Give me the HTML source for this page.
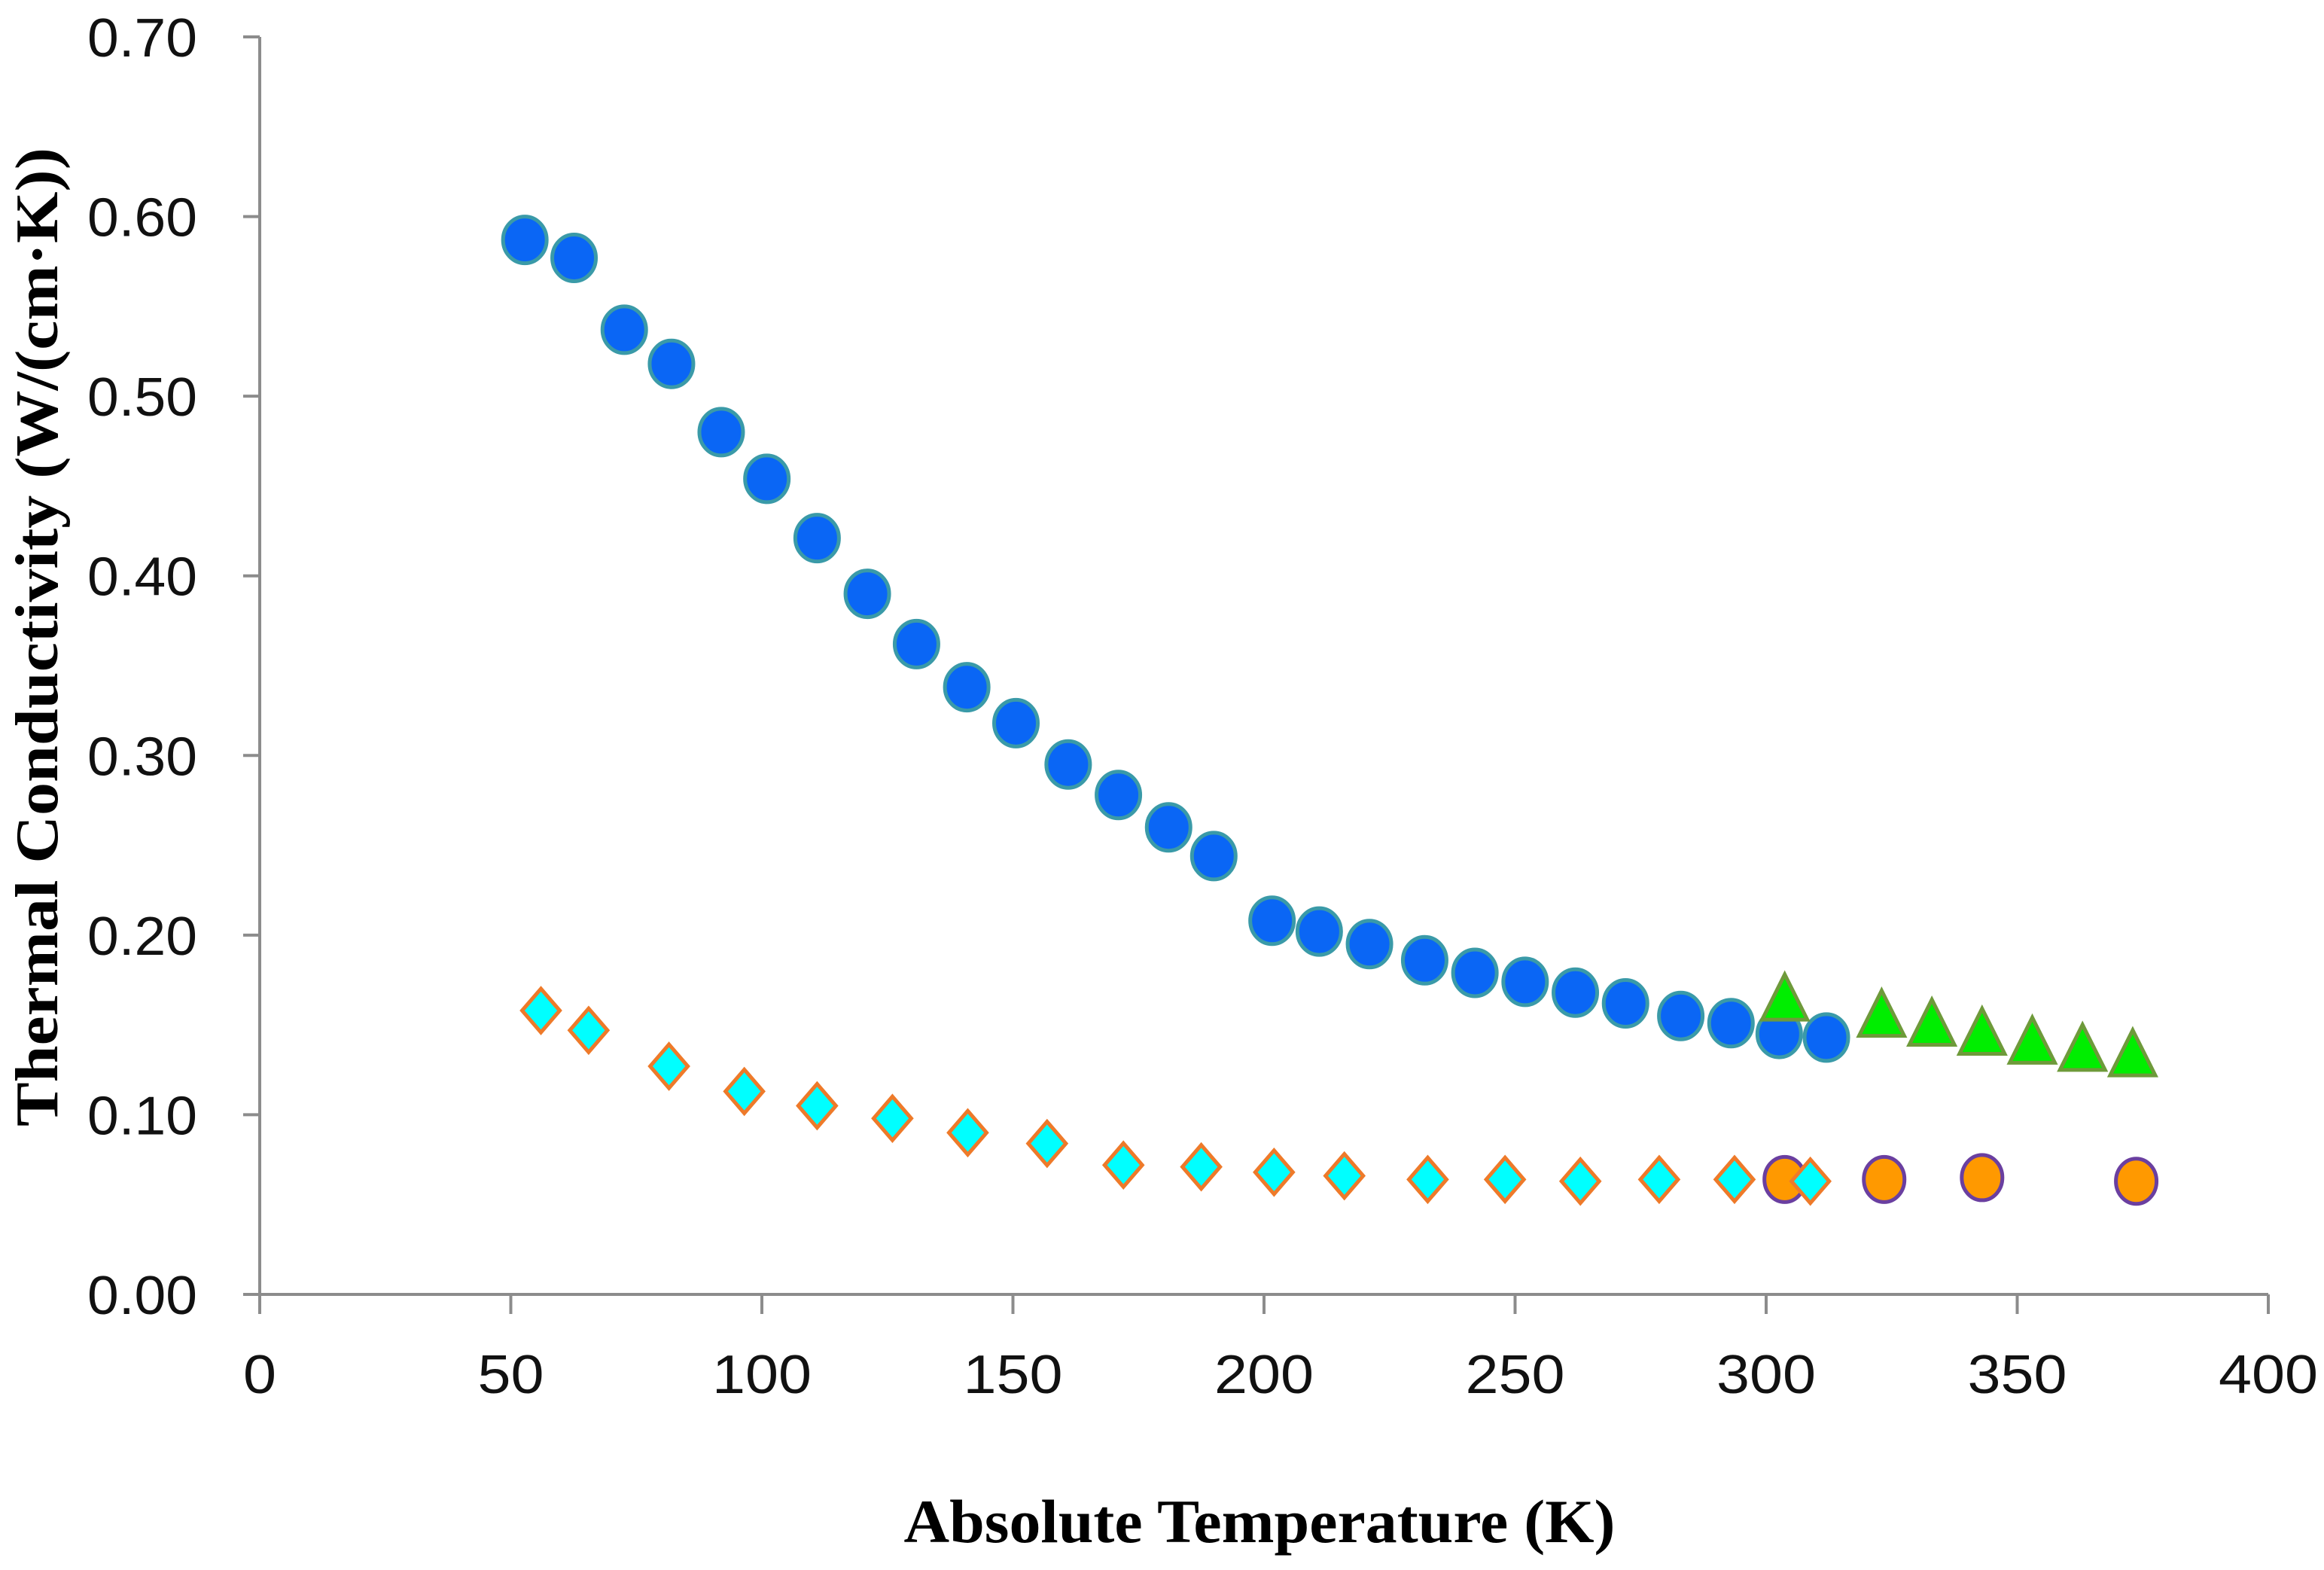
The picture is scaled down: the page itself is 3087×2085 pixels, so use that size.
<!DOCTYPE html>
<html><head><meta charset="utf-8"><style>
html,body{margin:0;padding:0;background:#fff;}
svg{display:block;}
</style></head><body>
<svg id="chart" width="3087" height="2085" viewBox="0 0 3087 2085" xmlns="http://www.w3.org/2000/svg">
<rect width="3087" height="2085" fill="#fff"/>
<g id="axes"></g>
<g id="marks"></g>
<text x="1673" y="2048" text-anchor="middle" font-family="'Liberation Serif', serif" font-weight="bold" font-size="82" textLength="945" lengthAdjust="spacingAndGlyphs">Absolute Temperature (K)</text>
<text transform="translate(76,846) rotate(-90)" x="0" y="0" text-anchor="middle" font-family="'Liberation Serif', serif" font-weight="bold" font-size="80" textLength="1300" lengthAdjust="spacingAndGlyphs">Thermal Conductivity (W/(cm·K))</text>
</svg>
<script>
const xTicks = [0,50,100,150,200,250,300,350,400];
const yTicks = [0,0.1,0.2,0.3,0.4,0.5,0.6,0.7];
const yTickLabels = ["0.00","0.10","0.20","0.30","0.40","0.50","0.60","0.70"];
const blueT = [52.8,62.6,72.6,82,91.9,101,111,121,130.8,140.8,150.6,161,171,181,190,201.6,211,221,232,242,252,262,272,283,293,302.6,312];
const blueK = [0.587,0.577,0.537,0.518,0.480,0.454,0.421,0.390,0.362,0.338,0.318,0.295,0.278,0.260,0.244,0.208,0.202,0.195,0.186,0.179,0.174,0.168,0.162,0.155,0.151,0.145,0.143];
const diaT = [56,65.5,81.5,96.5,111,126,141,156.8,172,187.5,202,216,232.6,248,263,278.7,293.7,308.8];
const diaK = [0.158,0.147,0.127,0.113,0.105,0.098,0.090,0.084,0.072,0.071,0.068,0.066,0.064,0.064,0.063,0.064,0.064,0.063];
const triT = [303.7,323,333,343,353,363,373];
const triK = [0.163,0.154,0.149,0.144,0.139,0.135,0.132];
const orT = [303.7,323.5,343,373.7];
const orK = [0.064,0.064,0.065,0.063];

const NS="http://www.w3.org/2000/svg";
const X0=345,X1=3013,Y0=1719,Y1=49;
function sx(v){return X0+(v-0)/(400-0)*(X1-X0);}
function sy(v){return Y0-(v-0)/(0.7-0)*(Y0-Y1);}
function mk(tag,parent,attrs){const e=document.createElementNS(NS,tag);for(const k in attrs)e.setAttribute(k,attrs[k]);parent.appendChild(e);return e;}
const axes=document.getElementById('axes');
const marks=document.getElementById('marks');
const ax=mk('line',axes,{x1:X0,y1:Y0,x2:X1,y2:Y0,stroke:'#8c8c8c','stroke-width':4});


const ay=mk('line',axes,{x1:X0,y1:Y1,x2:X0,y2:Y0,stroke:'#8c8c8c','stroke-width':4});


xTicks.forEach(t=>{
  const l=mk('line',axes,{x1:sx(t),y1:Y0,x2:sx(t),y2:Y0+26,stroke:'#8c8c8c','stroke-width':4});
  
  
  const s=String(t);
  const tx=mk('text',axes,{x:sx(t),y:1850,'text-anchor':'middle','font-family':"'Liberation Sans', sans-serif",'font-size':72,fill:'#111',textLength:s.length*44,lengthAdjust:'spacingAndGlyphs'});
  tx.textContent=s;
  
  
});
yTicks.forEach((t,i)=>{
  const l=mk('line',axes,{x1:X0-22,y1:sy(t),x2:X0,y2:sy(t),stroke:'#8c8c8c','stroke-width':4});
  
  
  const tx=mk('text',axes,{x:262,y:sy(t)+26,'text-anchor':'end','font-family':"'Liberation Sans', sans-serif",'font-size':72,fill:'#111',textLength:146,lengthAdjust:'spacingAndGlyphs'});
  tx.textContent=yTickLabels[i];
  
  
});
blueT.forEach((t,i)=>{
  const c=mk('ellipse',marks,{cx:sx(t),cy:sy(blueK[i]),rx:29,ry:31,fill:'#0a66f5',stroke:'#3a9aa8','stroke-width':5});
  
  
});
triT.forEach((t,i)=>{
  const x=sx(t),y=sy(triK[i]);
  const p=mk('polygon',marks,{points:`${x},${y-36} ${x+30},${y+24} ${x-30},${y+24}`,fill:'#00ee00',stroke:'#6e9a3a','stroke-width':5});
  
  
});
orT.forEach((t,i)=>{
  const c=mk('ellipse',marks,{cx:sx(t),cy:sy(orK[i]),rx:27,ry:30,fill:'#ff9900',stroke:'#6a3fa0','stroke-width':5});
  
  
});
diaT.forEach((t,i)=>{
  const x=sx(t),y=sy(diaK[i]);
  const p=mk('polygon',marks,{points:`${x},${y-29} ${x+25},${y} ${x},${y+29} ${x-25},${y}`,fill:'#00ffff',stroke:'#ee7a2a','stroke-width':5});
  
  
});
</script>
</body></html>
